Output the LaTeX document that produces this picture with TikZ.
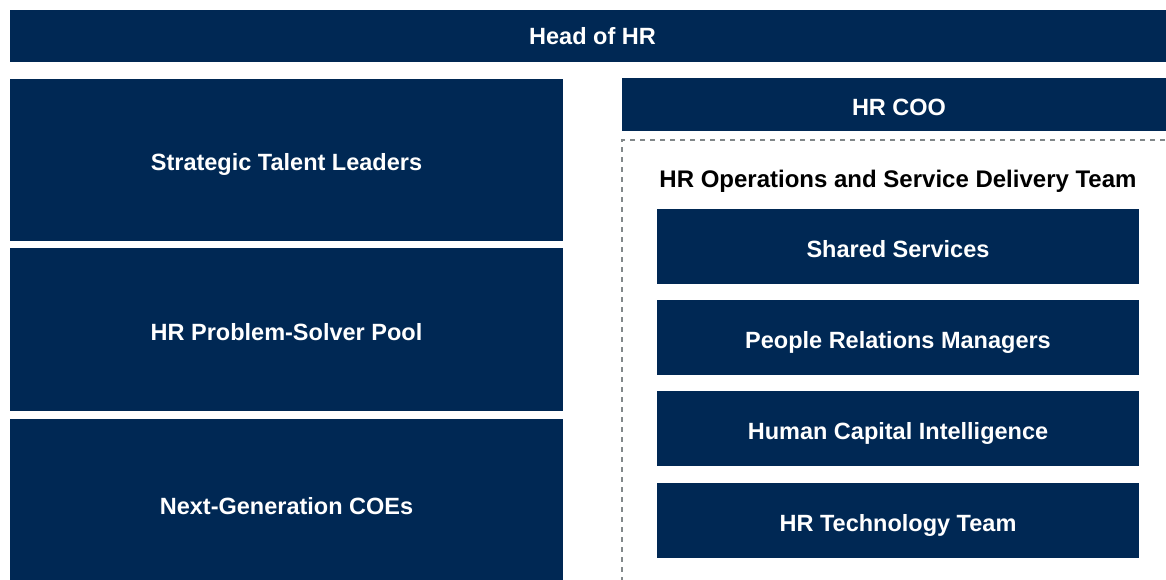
\documentclass[tikz,border=0pt]{standalone}
\usepackage{fontspec}
\setmainfont{Liberation Sans}
\definecolor{navy}{RGB}{0,40,84}
\definecolor{frame}{RGB}{130,136,138}
\begin{document}
\begin{tikzpicture}[x=1pt,y=-1pt,
  unit/.style={fill=navy, draw=none, text=white, font=\fontsize{23.5}{26}\selectfont\bfseries,
    inner sep=0pt, outer sep=0pt, anchor=north west, text height=24pt, text depth=3pt},
  opsframe/.style={draw=frame, dashed, dash pattern=on 5pt off 5pt, line width=1.3pt,
    inner sep=0pt, outer sep=0pt, anchor=north west},
  heading/.style={text=black, font=\fontsize{24}{28}\selectfont\bfseries, inner sep=0pt}]
\clip (0,0) rectangle (1166,579);
% top-level role
\node[unit, text height=19pt, minimum width=1165pt, minimum height=52pt] (head) at (10,10) {Head of HR};
% left column
\node[unit, minimum width=553pt, minimum height=162pt] (talent) at (10,79) {Strategic Talent Leaders};
\node[unit, minimum width=553pt, minimum height=163pt] (pool) at (10,248) {HR Problem-Solver Pool};
\node[unit, minimum width=553pt, minimum height=170pt] (coe) at (10,419) {Next-Generation COEs};
% right column
\node[unit, minimum width=554pt, minimum height=53pt] (coo) at (622,78) {HR COO};
\node[opsframe, minimum width=600pt, minimum height=503pt] (ops) at (622,140) {};
\node[heading] (opstitle) at (898,181) {HR Operations and Service Delivery Team};
\node[unit, minimum width=482pt, minimum height=75pt] (shared) at (657,209) {Shared Services};
\node[unit, minimum width=482pt, minimum height=75pt] (prm) at (657,300) {People Relations Managers};
\node[unit, minimum width=482pt, minimum height=75pt] (hci) at (657,391) {Human Capital Intelligence};
\node[unit, minimum width=482pt, minimum height=75pt] (tech) at (657,483) {HR Technology Team};
\end{tikzpicture}
\end{document}
